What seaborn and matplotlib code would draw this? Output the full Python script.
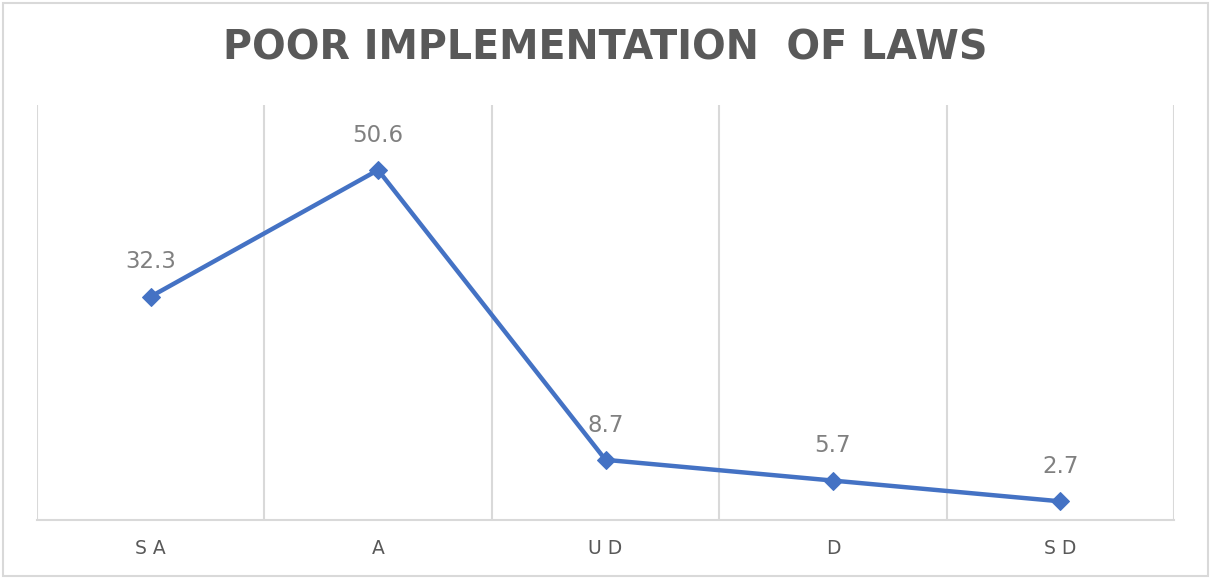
import matplotlib
matplotlib.use("Agg")
import matplotlib.pyplot as plt
from matplotlib.patches import Rectangle
import seaborn as sns
import pandas as pd

# Survey responses on poor implementation of laws (percent)
categories = ["SA", "A", "UD", "D", "SD"]
tick_labels = ["S A", "A", "U D", "D", "S D"]
percentages = [32.3, 50.6, 8.7, 5.7, 2.7]

sns.set_theme(style="white")
plt.rcParams["font.family"] = ["DejaVu Sans"]

df = pd.DataFrame({"pos": range(len(categories)), "pct": percentages})

fig = plt.figure(figsize=(12.11, 5.79), dpi=100)
ax = fig.add_axes([37 / 1211, 1 - 520 / 579, (1174 - 37) / 1211, (520 - 105) / 579])

line_color = "#4472C4"
sns.lineplot(data=df, x="pos", y="pct", ax=ax, color=line_color, linewidth=3.2,
             marker="D", markersize=9, markeredgecolor=line_color, zorder=3)

ax.set_xlim(-0.5, len(categories) - 0.5)
ax.set_ylim(0, 60)

# vertical separators between categories
for b in [i - 0.5 for i in range(len(categories) + 1)]:
    ax.axvline(b, color="#d9d9d9", linewidth=1.5, zorder=1)

for s in ["top", "left", "right"]:
    ax.spines[s].set_visible(False)
ax.spines["bottom"].set_color("#d9d9d9")
ax.spines["bottom"].set_linewidth(1.5)

ax.set_yticks([])
ax.set_xticks(range(len(categories)))
ax.set_xticklabels(tick_labels, fontsize=13.5, color="#595959")
ax.tick_params(axis="x", length=0, pad=14)
ax.set_xlabel("")
ax.set_ylabel("")

for i, v in enumerate(percentages):
    ax.annotate(f"{v}", (i, v), xytext=(0, 25), textcoords="offset points",
                ha="center", va="center", fontsize=16.5, color="#808080")

fig.text(0.5, 1 - 49 / 579, "POOR IMPLEMENTATION  OF LAWS", ha="center", va="center",
         fontsize=28.5, fontweight="bold", color="#595959")

fig.patches.append(Rectangle((3 / 1211, 3 / 579), 1 - 6 / 1211, 1 - 6 / 579,
                             transform=fig.transFigure, fill=False,
                             edgecolor="#d9d9d9", linewidth=1.5))

fig.savefig("out.png", dpi=100)
